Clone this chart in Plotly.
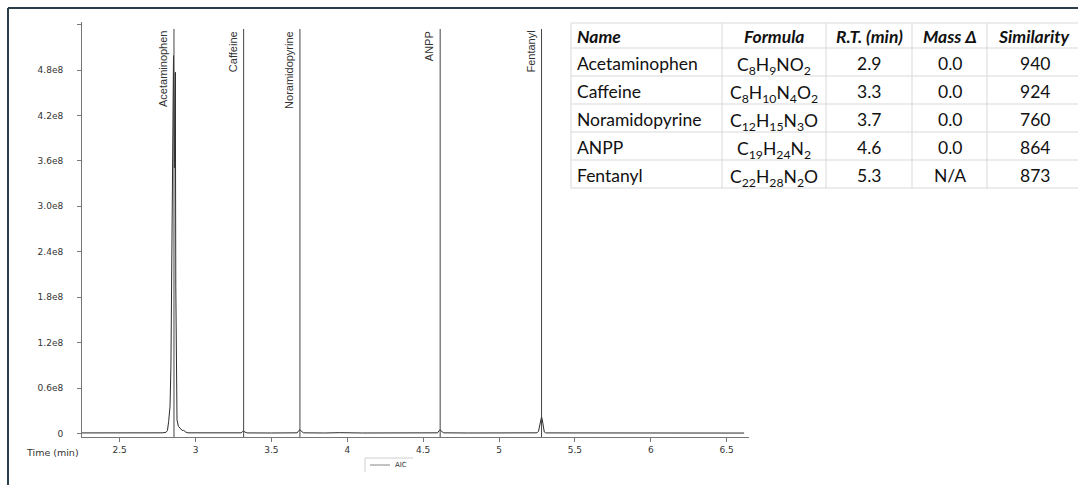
import plotly.graph_objects as go

# ---- chromatogram (AIC) ----
time_min = [2.252, 2.40, 2.55, 2.70, 2.78, 2.805, 2.815, 2.823, 2.832, 2.838, 2.843,
            2.848, 2.855, 2.861, 2.867, 2.870, 2.874, 2.878, 2.887, 2.900, 2.912,
            2.922, 2.935, 2.950, 3.05, 3.20, 3.300, 3.310, 3.317, 3.325, 3.340,
            3.50, 3.670, 3.681, 3.688, 3.697, 3.712, 3.85, 3.95, 4.10, 4.30,
            4.45, 4.595, 4.606, 4.612, 4.620, 4.635, 4.80, 5.00, 5.15, 5.250,
            5.260, 5.268, 5.275, 5.280, 5.285, 5.291, 5.298, 5.306, 5.45, 5.70,
            5.95, 6.15, 6.35, 6.615]
intensity = [0.8e6, 0.7e6, 0.8e6, 0.7e6, 0.9e6, 1.5e6, 4.0e6, 1.6e7, 3.6e7, 8.9e7, 2.57e8,
             4.04e8, 4.99e8, 3.51e8, 4.77e8, 1.96e8, 7.8e7, 1.8e7, 9.6e6, 6.5e6, 4.0e6,
             4.2e6, 2.0e6, 0.9e6, 0.7e6, 0.8e6, 0.9e6, 2.6e6, 3.4e6, 2.0e6, 0.8e6,
             0.7e6, 0.9e6, 4.0e6, 5.2e6, 3.0e6, 0.9e6, 0.7e6, 1.1e6, 0.7e6, 0.8e6,
             0.7e6, 0.9e6, 4.0e6, 5.0e6, 3.0e6, 0.9e6, 0.7e6, 0.8e6, 0.7e6, 0.9e6,
             3.0e6, 1.2e7, 2.0e7, 2.2e7, 1.8e7, 8.0e6, 2.0e6, 0.8e6, 0.7e6, 0.6e6,
             0.7e6, 0.6e6, 0.7e6, 0.6e6]

# ---- identified compounds ----
compounds = ["Acetaminophen", "Caffeine", "Noramidopyrine", "ANPP", "Fentanyl"]
marker_rt = [2.858, 3.317, 3.688, 4.612, 5.280]
formulas = ["C<sub>8</sub>H<sub>9</sub>NO<sub>2</sub>",
            "C<sub>8</sub>H<sub>10</sub>N<sub>4</sub>O<sub>2</sub>",
            "C<sub>12</sub>H<sub>15</sub>N<sub>3</sub>O",
            "C<sub>19</sub>H<sub>24</sub>N<sub>2</sub>",
            "C<sub>22</sub>H<sub>28</sub>N<sub>2</sub>O"]
rt_table = ["2.9", "3.3", "3.7", "4.6", "5.3"]
mass_delta = ["0.0", "0.0", "0.0", "0.0", "N/A"]
similarity = ["940", "924", "760", "864", "873"]
table_headers = ["Name", "Formula", "R.T. (min)", "Mass Δ", "Similarity"]

# ---- axes ticks ----
x_tickvals = [2.5, 3, 3.5, 4, 4.5, 5, 5.5, 6, 6.5]
x_ticktext = ["2.5", "3", "3.5", "4", "4.5", "5", "5.5", "6", "6.5"]
y_tickvals = [0, 0.6e8, 1.2e8, 1.8e8, 2.4e8, 3.0e8, 3.6e8, 4.2e8, 4.8e8, 5.4e8]
y_ticktext = ["0", "0.6e8", "1.2e8", "1.8e8", "2.4e8", "3.0e8", "3.6e8", "4.2e8", "4.8e8", ""]

W, H = 1078, 485


def px(v):
    return v / W


def py(v):
    return (H - v) / H


fig = go.Figure()

fig.add_trace(go.Scatter(
    x=time_min, y=intensity, mode="lines", name="AIC",
    line=dict(color="#2b2b2b", width=1),
    showlegend=False,
))

# retention-time markers with rotated labels
for name, rt in zip(compounds, marker_rt):
    fig.add_shape(type="line", xref="x", yref="paper",
                  x0=rt, x1=rt, y0=py(437), y1=py(29),
                  line=dict(color="#444444", width=1))
    fig.add_annotation(x=rt, xref="x", y=py(29), yref="paper",
                       text=name, textangle=-90, showarrow=False,
                       xanchor="right", yanchor="top", xshift=-3,
                       font=dict(family="Liberation Sans", size=11, color="#333333"))

# x axis title placed in line with tick labels
fig.add_annotation(x=px(81), xref="paper", y=py(452), yref="paper",
                   text="Time (min)", showarrow=False,
                   xanchor="right", yanchor="middle",
                   font=dict(family="DejaVu Sans", size=9.5, color="#333333"))

# legend box for the AIC trace
fig.add_shape(type="line", xref="paper", yref="paper",
              x0=px(365), x1=px(365), y0=py(472), y1=py(458),
              line=dict(color="#cfcfcf", width=1))
fig.add_shape(type="line", xref="paper", yref="paper",
              x0=px(365), x1=px(413), y0=py(458), y1=py(458),
              line=dict(color="#cfcfcf", width=1))
fig.add_shape(type="line", xref="paper", yref="paper",
              x0=px(370), x1=px(390), y0=py(465), y1=py(465),
              line=dict(color="#888888", width=1))
fig.add_annotation(x=px(393), xref="paper", y=py(465), yref="paper",
                   text="AIC", showarrow=False, xanchor="left", yanchor="middle",
                   font=dict(family="DejaVu Sans", size=7, color="#333333"))

# outer frame (left and top edges)
fig.add_shape(type="line", xref="paper", yref="paper",
              x0=px(8), x1=px(8), y0=0, y1=py(8),
              line=dict(color="#2c3e4a", width=2))
fig.add_shape(type="line", xref="paper", yref="paper",
              x0=px(8), x1=1, y0=py(8), y1=py(8),
              line=dict(color="#2c3e4a", width=2))

# ---- results table ----
col_edges = [571, 722, 826, 912, 987, 1082]
row_edges = [23, 48, 76, 104, 132, 160, 188]
grid_color = "#d9d9d9"
for xe in col_edges:
    fig.add_shape(type="line", xref="paper", yref="paper",
                  x0=px(xe), x1=px(xe), y0=py(row_edges[0]), y1=py(row_edges[-1]),
                  line=dict(color=grid_color, width=1))
for ye in row_edges:
    fig.add_shape(type="line", xref="paper", yref="paper",
                  x0=px(col_edges[0]), x1=px(col_edges[-1]), y0=py(ye), y1=py(ye),
                  line=dict(color=grid_color, width=1))

columns = [compounds, formulas, rt_table, mass_delta, similarity]
for ci, header in enumerate(table_headers):
    left, right = col_edges[ci], col_edges[ci + 1]
    if ci == 0:
        tx, anchor = left + 4, "left"
    else:
        tx, anchor = (left + right) / 2, "center"
    fig.add_annotation(x=px(tx), xref="paper",
                       y=py((row_edges[0] + row_edges[1]) / 2), yref="paper",
                       text=f"<b><i>{header}</i></b>", showarrow=False,
                       xanchor=anchor, yanchor="middle", yshift=-1,
                       font=dict(family="Lato", size=17.5, color="#111111"))
    # subscripted formulas have a deeper box, so they need a bigger downward nudge
    shift = -4 if ci == 1 else -1.5
    for ri, val in enumerate(columns[ci]):
        yc = (row_edges[ri + 1] + row_edges[ri + 2]) / 2
        fig.add_annotation(x=px(tx), xref="paper", y=py(yc), yref="paper",
                           text=val, showarrow=False,
                           xanchor=anchor, yanchor="middle", yshift=shift,
                           font=dict(family="Lato", size=17.5, color="#111111"))

axis_common = dict(
    showgrid=False, zeroline=False, showline=True,
    linecolor="#777777", linewidth=1,
    ticks="outside", ticklen=4, tickcolor="#777777",
    tickfont=dict(family="DejaVu Sans", size=9, color="#333333"),
    automargin=False, fixedrange=True,
)

fig.update_layout(
    width=W, height=H,
    margin=dict(l=0, r=0, t=0, b=0),
    paper_bgcolor="white", plot_bgcolor="white",
    template="none",
    showlegend=False,
    xaxis=dict(domain=[px(82), px(749)], range=[2.252, 6.647],
               tickvals=x_tickvals, ticktext=x_ticktext, **axis_common),
    yaxis=dict(domain=[py(437), py(22)], range=[-4.6e6, 5.434e8],
               tickvals=y_tickvals, ticktext=y_ticktext,
               ticklabelstandoff=12, **axis_common),
)

fig.write_html("out.html")
